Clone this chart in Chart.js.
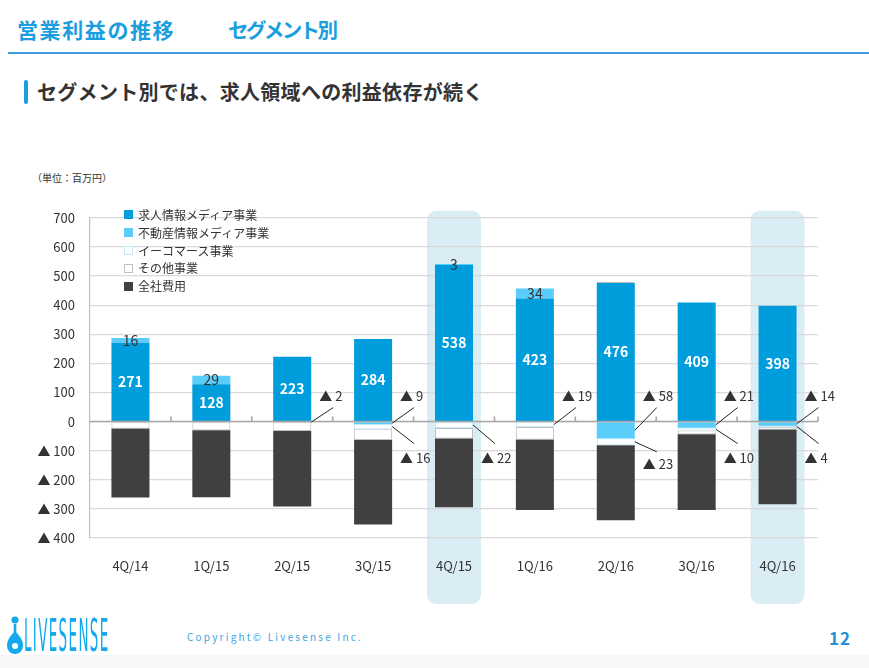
<!DOCTYPE html>
<html lang="ja">
<head>
<meta charset="utf-8">
<script src="https://cdn.jsdelivr.net/npm/chart.js@4.4.0/dist/chart.umd.min.js"></script>
<style>
  html, body { margin: 0; padding: 0; }
  body { width: 869px; height: 668px; position: relative; overflow: hidden; background: #fff;
         font-family: "Noto Sans CJK JP", "Noto Sans", sans-serif; color: #333; }
  .title { position: absolute; top: 14px; font-size: 21px; font-weight: bold;
           color: #1a9ee0; line-height: 30px; white-space: nowrap; }
  .t1 { left: 17px; letter-spacing: 1.6px; }
  .t2 { left: 228px; letter-spacing: -2.6px; font-size: 20.5px; }
  .rule { position: absolute; left: 8px; right: 0; top: 52px; height: 2px; background: #3d9ddb; }
  .sub-bar { position: absolute; left: 24px; top: 80px; width: 4px; height: 24px; background: #1a9ee0; border-radius: 2px; }
  .subtitle { position: absolute; left: 37px; top: 76px; font-size: 20px; font-weight: bold;
              color: #333; line-height: 32px; letter-spacing: 0.3px; }
  .unit { position: absolute; left: 32px; top: 170px; font-size: 10px; color: #333; }
  #wrap { position: absolute; left: 0; top: 195px; width: 869px; height: 420px; }
  .legend { position: absolute; left: 124px; top: 206px; font-size: 12px; color: #333; line-height: 17.8px; }
  .legend div { display: flex; align-items: center; white-space: nowrap; }
  .legend span.sw { display: inline-block; width: 9px; height: 9px; margin-right: 5px; box-sizing: border-box; }
  .footer-bg { position: absolute; left: 0; right: 0; top: 655px; bottom: 0; background: #f7f7f7; }
  .logo { position: absolute; left: 6px; top: 615px; }
  .logo-text { position: absolute; left: 24px; top: 614px; font-family: "Liberation Sans Narrow", "DejaVu Sans Condensed", sans-serif;
               font-size: 44px; line-height: 44px; color: #13a9ec; letter-spacing: 4px; transform: scaleX(0.34); transform-origin: left top; }
  .copy { position: absolute; left: 187px; top: 629px; font-size: 10px; color: #3aa6e3; letter-spacing: 2.2px; }
  .page { position: absolute; left: 829px; top: 625px; font-size: 17px; color: #2b8fd6; font-weight: bold; letter-spacing: 1px; }
</style>
</head>
<body>
<div class="title t1">営業利益の推移</div>
<div class="title t2">セグメント別</div>
<div class="rule"></div>
<div class="sub-bar"></div>
<div class="subtitle">セグメント別では、求人領域への利益依存が続く</div>
<div class="unit">（単位：百万円）</div>
<div id="wrap"><canvas id="chart"></canvas></div>
<div class="legend" id="legend"></div>
<div class="footer-bg"></div>
<svg class="logo" width="18" height="42" viewBox="0 0 18 42">
  <circle cx="9" cy="5" r="3.6" fill="#13a9ec"/>
  <path d="M9 9 L9 17" stroke="#13a9ec" stroke-width="2.6"/>
  <path d="M9 16 C2 23 1 27 1 31 A8 8 0 0 0 17 31 C17 27 16 23 9 16 Z" fill="#13a9ec"/>
  <circle cx="9" cy="31" r="3" fill="#fff"/>
</svg>
<div class="logo-text">LIVESENSE</div>
<div class="copy">Copyright© Livesense Inc.</div>
<div class="page">12</div>

<script>
const quarters = ['4Q/14', '1Q/15', '2Q/15', '3Q/15', '4Q/15', '1Q/16', '2Q/16', '3Q/16', '4Q/16'];
const seriesNames = ['求人情報メディア事業', '不動産情報メディア事業', 'イーコマース事業', 'その他事業', '全社費用'];

// 営業利益 (百万円), マイナスは▲表示
const jobMedia = [271, 128, 223, 284, 538, 423, 476, 409, 398];
const realEstate = [16, 29, null, -9, 3, 34, -58, -21, -14];
const ecommerce = [null, null, -2, -16, -22, -19, -23, -10, -4];
const otherBiz = [-24, -30, -30, -38, -36, -43, 4, -13, -9];
const corporateCost = [-237, -230, -260, -291, -236, -242, -258, -260, -257];

const yMin = -400;
const yMax = 700;
const yStep = 100;

// 強調する四半期
const highlighted = ['4Q/15', '4Q/16'];

// ▲ラベル: [四半期, 系列番号, 上/下]
const callouts = [
  ['2Q/15', 2, 'up'],
  ['3Q/15', 1, 'up'], ['3Q/15', 2, 'down'],
  ['4Q/15', 2, 'down'],
  ['1Q/16', 2, 'up'],
  ['2Q/16', 1, 'up'], ['2Q/16', 2, 'down'],
  ['3Q/16', 1, 'up'], ['3Q/16', 2, 'down'],
  ['4Q/16', 1, 'up'], ['4Q/16', 2, 'down'],
];

const fills = ['#009ddc', '#5bcdfa', '#ffffff', '#ffffff', '#404040'];
const borders = ['#009ddc', '#5bcdfa', '#c4ebfb', '#bfbfbf', '#404040'];
const FONT = '"Noto Sans CJK JP", "Noto Sans", sans-serif';

// legend
const legendBox = document.getElementById('legend');
seriesNames.forEach((name, k) => {
  const row = document.createElement('div');
  const sw = document.createElement('span');
  sw.className = 'sw';
  sw.style.background = fills[k];
  sw.style.border = '1px solid ' + borders[k];
  row.appendChild(sw);
  row.appendChild(document.createTextNode(name));
  legendBox.appendChild(row);
});

const fmt = (v) => (v < 0 ? '▲ ' + Math.abs(v) : String(v));

const bandPlugin = {
  id: 'bands',
  beforeDraw(chart) {
    const { ctx, chartArea, scales } = chart;
    const x = scales.x;
    ctx.save();
    ctx.fillStyle = '#daedf4';
    highlighted.forEach((q) => {
      const cx = x.getPixelForValue(quarters.indexOf(q));
      const w = 54;
      ctx.beginPath();
      ctx.roundRect(cx - w / 2, chartArea.top - 7, w, chartArea.bottom - chartArea.top + 73, 9);
      ctx.fill();
    });
    ctx.restore();
  },
};

const labelPlugin = {
  id: 'labels',
  afterDatasetsDraw(chart) {
    const { ctx, chartArea, scales } = chart;
    const x = scales.x;
    const y0 = scales.y.getPixelForValue(0);
    ctx.save();

    // zero line with small category ticks
    ctx.strokeStyle = '#a6a6a6';
    ctx.lineWidth = 1.6;
    ctx.beginPath();
    ctx.moveTo(chartArea.left, y0);
    ctx.lineTo(chartArea.right, y0);
    const step = x.getPixelForValue(1) - x.getPixelForValue(0);
    for (let i = 1; i <= quarters.length; i++) {
      const bx = x.getPixelForValue(i) - step / 2;
      ctx.moveTo(bx, y0);
      ctx.lineTo(bx, y0 - 5);
    }
    ctx.stroke();

    ctx.textAlign = 'center';
    ctx.textBaseline = 'middle';
    // values inside blue bars
    const m0 = chart.getDatasetMeta(0);
    ctx.fillStyle = '#ffffff';
    ctx.font = 'bold 14px ' + FONT;
    m0.data.forEach((el, i) => {
      ctx.fillText(String(jobMedia[i]), el.x, (el.y + el.base) / 2);
    });
    // positive real estate values
    const m1 = chart.getDatasetMeta(1);
    ctx.fillStyle = '#333333';
    ctx.font = '14px ' + FONT;
    m1.data.forEach((el, i) => {
      if (realEstate[i] > 0) ctx.fillText(String(realEstate[i]), el.x, (el.y + el.base) / 2);
    });

    // ▲ callouts
    ctx.textAlign = 'left';
    ctx.font = '13px ' + FONT;
    ctx.strokeStyle = '#222';
    ctx.lineWidth = 1;
    callouts.forEach(([q, ds, dir]) => {
      const i = quarters.indexOf(q);
      const el = chart.getDatasetMeta(ds).data[i];
      const v = chart.data.datasets[ds].data[i];
      const right = el.x + el.width / 2;
      const sy = (el.y + el.base) / 2;
      const up = dir === 'up';
      ctx.beginPath();
      ctx.moveTo(right, sy);
      ctx.lineTo(right + 22, up ? y0 - 14 : Math.max(y0 + 22, sy + 10));
      ctx.stroke();
      ctx.fillStyle = '#333';
      ctx.fillText(fmt(v), right + 8, up ? y0 - 26 : Math.max(y0 + 36, sy + 22));
    });
    ctx.restore();
  },
};

const seriesData = [jobMedia, realEstate, ecommerce, otherBiz, corporateCost];

new Chart(document.getElementById('chart'), {
  type: 'bar',
  data: {
    labels: quarters,
    datasets: seriesData.map((d, k) => ({
      label: seriesNames[k],
      data: d,
      backgroundColor: fills[k],
      borderColor: borders[k],
      borderWidth: k === 2 || k === 3 ? 1 : 0,
      borderSkipped: false,
      barPercentage: 1,
      categoryPercentage: 0.47,
    })),
  },
  options: {
    responsive: true,
    maintainAspectRatio: false,
    animation: false,
    layout: { padding: { top: 22, right: 51, bottom: 37, left: 0 } },
    plugins: {
      legend: { display: false },
      tooltip: { enabled: false },
    },
    scales: {
      x: {
        stacked: true,
        grid: { display: false },
        border: { display: false },
        ticks: { color: '#333', font: { size: 13, family: FONT }, padding: 12 },
        afterFit: (s) => { s.height = 40; },
      },
      y: {
        stacked: true,
        min: yMin,
        max: yMax,
        ticks: {
          stepSize: yStep,
          color: '#333',
          font: { size: 13, family: FONT },
          padding: 15,
          callback: (v) => fmt(v),
        },
        grid: {
          color: '#d9d9d9',
          lineWidth: 1.2,
          drawTicks: false,
        },
        border: { display: true, color: '#bfbfbf', width: 1.2 },
        afterFit: (s) => { s.width = 90; },
      },
    },
  },
  plugins: [bandPlugin, labelPlugin],
});
</script>
</body>
</html>
